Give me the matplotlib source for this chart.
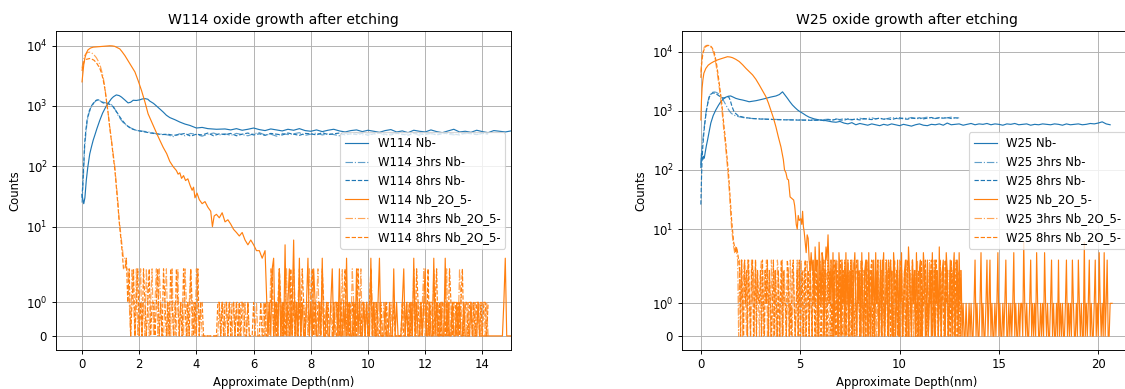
import numpy as np
import matplotlib
matplotlib.use('Agg')
import matplotlib.pyplot as plt

# ---------------- W114 (left panel) ----------------
# Nb- as-etched
w114_nb_x = [0, 0.03, 0.06, 0.1, 0.15, 0.2, 0.27, 0.33, 0.39, 0.45, 0.52, 0.62, 0.72, 0.85, 0.95,
             1.03, 1.1, 1.2, 1.3, 1.38, 1.5, 1.61, 1.7, 1.79, 1.9, 2.02, 2.1, 2.2, 2.3, 2.37, 2.5,
             2.6, 2.72, 2.84, 2.95, 3.07, 3.25, 3.42, 3.6, 3.77, 4.0, 4.2, 4.4, 4.7, 5.0]
w114_nb_y = [34, 28, 24, 30, 59, 95, 160, 210, 270, 330, 420, 575, 760, 1000, 1170,
             1320, 1420, 1520, 1480, 1400, 1250, 1120, 1150, 1240, 1230, 1260, 1300, 1320, 1290, 1200, 1100,
             1000, 890, 790, 700, 640, 590, 540, 500, 475, 430, 440, 420, 410, 415]
w114_nb_flat = [400, 420, 395, 410, 430, 405, 390, 415, 400, 385,
                410, 395, 420, 390, 380, 400, 375, 395, 410, 385,
                370, 390, 400, 375, 395, 380, 365, 390, 405, 370,
                385, 360, 395, 380, 370, 400, 375, 360, 385, 410,
                370, 380, 365, 395, 375, 360, 390, 380, 370, 385]  # 5.2 .. 15.0

w114_3h_nb_x = [0, 0.03, 0.06, 0.09, 0.13, 0.18, 0.25, 0.33, 0.42, 0.5, 0.56, 0.65, 0.74, 0.85, 0.97,
                1.05, 1.14, 1.2, 1.26, 1.35, 1.44, 1.55, 1.67, 1.8, 1.9, 2.05, 2.25, 2.45, 2.6, 2.8]
w114_3h_nb_y = [25, 45, 90, 200, 330, 560, 780, 960, 1130, 1230, 1270, 1200, 1150, 1120, 1090,
                1030, 900, 800, 700, 600, 530, 480, 440, 410, 395, 385, 375, 360, 345, 340]
w114_3h_nb_flat = [330, 310, 345, 320, 350, 335, 315, 340, 355, 330,
                   345, 325, 350, 335, 320, 345, 360, 330, 340, 315,
                   350, 335, 345, 360, 325, 340, 355, 330, 345, 335,
                   320, 350, 340, 360, 330, 345, 335, 355, 325, 345,
                   360, 335, 340, 350, 325, 355, 345, 335, 360, 340,
                   330, 350, 345, 360, 335, 350, 340]  # 3.0 .. 14.2

w114_8h_nb_x = [0, 0.03, 0.06, 0.09, 0.13, 0.18, 0.25, 0.33, 0.42, 0.5, 0.58, 0.66, 0.74, 0.85, 0.97,
                1.08, 1.16, 1.24, 1.32, 1.4, 1.5, 1.6, 1.72, 1.85, 2.0, 2.2, 2.4, 2.6, 2.8]
w114_8h_nb_y = [30, 55, 110, 230, 380, 600, 820, 1000, 1150, 1240, 1260, 1180, 1120, 1100, 1060,
                980, 860, 760, 660, 580, 510, 460, 420, 400, 385, 370, 355, 345, 335]
w114_8h_nb_flat = [340, 325, 335, 350, 315, 340, 330, 355, 320, 345,
                   335, 350, 320, 340, 355, 330, 345, 325, 350, 340,
                   330, 355, 340, 325, 350, 345, 330, 360, 335, 345,
                   355, 330, 345, 335, 350, 325, 345, 360, 340, 330,
                   350, 340, 325, 355, 345, 335, 350, 330, 345, 355,
                   340, 330, 355, 345, 335, 350, 345]  # 3.0 .. 14.2

# Nb2O5- as-etched
w114_ox_x = [0, 0.03, 0.06, 0.1, 0.15, 0.21, 0.3, 0.39, 0.5, 0.62, 0.8, 0.97, 1.06, 1.14, 1.22, 1.32,
             1.4, 1.5, 1.58, 1.67, 1.76, 1.85, 1.96, 2.08, 2.2, 2.31, 2.4, 2.49, 2.6, 2.72, 2.84, 2.96,
             3.07, 3.19, 3.3, 3.36, 3.42, 3.48, 3.55, 3.62, 3.7, 3.78, 3.85, 3.9, 3.95, 4.02, 4.1,
             4.2, 4.3, 4.4, 4.5, 4.56, 4.62, 4.7, 4.8, 4.9, 5.0, 5.1, 5.2, 5.3, 5.4, 5.5, 5.6, 5.7,
             5.8, 5.9, 6.0, 6.1, 6.2, 6.3, 6.4]
w114_ox_y = [2500, 3500, 4800, 6200, 7500, 8500, 9100, 9400, 9500, 9600, 9800, 9900, 9850, 9700, 9300, 8800,
             7900, 6800, 5900, 5000, 4300, 3650, 2640, 1800, 1160, 740, 590, 475, 360, 270, 205, 162,
             120, 98, 85, 74, 78, 63, 70, 58, 62, 48, 40, 45, 30, 36, 28,
             24, 26, 21, 18, 10, 15, 16, 14, 17, 12, 13, 11, 9, 8, 7, 8, 6,
             5, 6, 5, 4, 4, 3, 4]
w114_ox_tail = ("01023010201050120160"   # 6.5 .. 7.45, step 0.05
                "10301001301021001030"
                "01001201102001030100"
                "10201001010030100130"
                "00100100201000120100"
                "10301001012001003010"
                "01003010010010100100"
                "00100001000000000000"
                "00000130000")           # 14.5 .. 15.0

w114_3h_ox_x = [0, 0.03, 0.06, 0.09, 0.15, 0.21, 0.27, 0.33, 0.42, 0.5, 0.56, 0.62, 0.68, 0.74, 0.8,
                0.85, 0.91, 0.97, 1.03, 1.09, 1.15, 1.2, 1.25, 1.3, 1.35, 1.4, 1.45]
w114_3h_ox_y = [4200, 5200, 6000, 6800, 7400, 7700, 7750, 7600, 7000, 6300, 5600, 4900, 3900, 3000, 2000,
                1300, 800, 450, 280, 160, 95, 50, 28, 13, 8, 5, 3]
w114_3h_ox_tail = ("32210210201201021012"   # 1.5 .. 2.45
                   "01202100120102010201"
                   "10210120102101000000"
                   "00000010110101101011"
                   "01101010000010000101"
                   "10210110201012011021"
                   "01201101021010120110"
                   "01001000101020110102"
                   "10110201011021010010"
                   "01000010000000010110"
                   "10210110120101102101"
                   "01101201011010210110"
                   "101101011011010")       # 13.5 .. 14.2

w114_8h_ox_x = [0, 0.03, 0.06, 0.09, 0.15, 0.21, 0.27, 0.33, 0.42, 0.5, 0.56, 0.62, 0.68, 0.74, 0.8,
                0.85, 0.91, 0.97, 1.03, 1.09, 1.15, 1.2, 1.25, 1.3, 1.35, 1.4, 1.45]
w114_8h_ox_y = [3800, 4600, 5200, 5600, 5900, 6000, 6100, 6000, 5700, 5200, 4700, 4200, 3500, 2700, 1900,
                1250, 780, 430, 260, 150, 85, 45, 24, 12, 7, 4, 2]
w114_8h_ox_tail = ("23120120120102101201"
                   "10120102101021002101"
                   "02101021010201100000"
                   "00000110101101011010"
                   "10110010001000010010"
                   "01120101210101102010"
                   "10102101101201011021"
                   "00100010010101201011"
                   "01021011010120101001"
                   "00010000100000100101"
                   "01102101011020110120"
                   "10110102101101012011"
                   "011010110101101")

# ---------------- W25 (right panel) ----------------
w25_nb_x = [0, 0.03, 0.06, 0.1, 0.14, 0.17, 0.22, 0.28, 0.34, 0.42, 0.5, 0.62, 0.75, 0.88, 1.0,
            1.13, 1.26, 1.38, 1.5, 1.63, 1.76, 1.93, 2.1, 2.27, 2.43, 2.6, 2.77, 3.0, 3.27, 3.5,
            3.78, 3.95, 4.11, 4.23, 4.36, 4.48, 4.61, 4.74, 4.87, 5.0, 5.12, 5.3, 5.45, 5.7, 5.96]
w25_nb_y = [110, 190, 160, 150, 170, 158, 200, 260, 325, 450, 620, 830, 1030, 1230, 1420,
            1580, 1700, 1760, 1780, 1700, 1620, 1560, 1520, 1470, 1420, 1450, 1480, 1540, 1620, 1700,
            1780, 1880, 2090, 1850, 1620, 1420, 1250, 1130, 1030, 960, 910, 830, 780, 730, 700]
w25_nb_flat = [690, 670, 650, 640, 660, 620, 600, 630, 580, 610, 590, 570, 600, 580, 560, 590, 570, 600, 580,
               560, 590, 570, 550, 580, 600, 570, 560, 590, 580, 600, 570, 620, 580, 590, 600, 570, 590, 610, 580,
               600, 590, 610, 580, 600, 590, 570, 600, 590, 610, 580, 590, 600, 570, 590, 580, 600, 590, 580, 600,
               590, 570, 600, 580, 590, 600, 580, 590, 610, 600, 620, 650, 600, 580]  # 6.2 .. 20.6

w25_3h_nb_x = [0, 0.03, 0.06, 0.1, 0.15, 0.2, 0.25, 0.3, 0.36, 0.42, 0.5, 0.59, 0.67, 0.75, 0.83,
               0.92, 1.0, 1.09, 1.18, 1.26, 1.35, 1.43, 1.51, 1.6, 1.75, 1.93, 2.2, 2.6, 3.0, 3.44,
               4.0, 4.5, 5.1, 5.6]
w25_3h_nb_y = [120, 180, 250, 330, 470, 650, 900, 1150, 1450, 1750, 1950, 2050, 2080, 2060, 2000,
               1900, 1780, 1600, 1400, 1250, 1100, 1000, 920, 870, 820, 790, 760, 740, 730, 720,
               710, 705, 700, 700]
w25_3h_nb_flat = [700, 690, 710, 720, 700, 730, 710, 740, 720, 700, 730, 750, 720, 740, 760, 730, 750,
                  720, 740, 770, 750, 730, 760, 740, 770, 750, 730, 760, 780, 750, 740, 770, 750, 760,
                  780, 750, 760]  # 5.8 .. 13.0

w25_8h_nb_x = [0, 0.03, 0.06, 0.1, 0.15, 0.2, 0.25, 0.3, 0.36, 0.42, 0.5, 0.6, 0.7, 0.8, 0.9,
               1.0, 1.1, 1.2, 1.3, 1.4, 1.48, 1.56, 1.65, 1.75, 1.85, 2.0, 2.2, 2.6, 3.0, 3.5,
               4.0, 4.5, 5.0, 5.6]
w25_8h_nb_y = [26, 70, 150, 260, 420, 620, 850, 1100, 1400, 1700, 1900, 2000, 1980, 1900, 1800,
               1700, 1650, 1660, 1700, 1720, 1500, 1200, 1000, 900, 840, 800, 770, 740, 725, 715,
               705, 700, 695, 690]
w25_8h_nb_flat = [690, 700, 680, 710, 690, 720, 700, 690, 730, 710, 720, 700, 740, 720, 710, 730, 750,
                  720, 730, 710, 740, 760, 730, 720, 750, 740, 760, 730, 750, 770, 740, 760, 750, 770,
                  740, 760, 750]  # 5.8 .. 13.0

w25_ox_x = [0, 0.03, 0.06, 0.1, 0.15, 0.25, 0.37, 0.5, 0.62, 0.75, 0.92, 1.09, 1.22, 1.34, 1.47,
            1.59, 1.76, 1.93, 2.1, 2.27, 2.43, 2.6, 2.77, 2.94, 3.1, 3.27, 3.4, 3.52, 3.65, 3.78,
            3.9, 4.03, 4.15, 4.21, 4.28, 4.35, 4.41, 4.49, 4.58, 4.67, 4.72, 4.76, 4.8, 4.85, 4.9,
            4.95, 5.03, 5.08, 5.12, 5.16, 5.2, 5.25, 5.3, 5.35, 5.4, 5.45, 5.5]
w25_ox_y = [700, 1500, 2400, 3300, 4300, 5200, 5900, 6350, 6700, 7050, 7400, 7720, 8000, 8200, 8100,
            7900, 7400, 6800, 6000, 5200, 4600, 4050, 3400, 2730, 2200, 1740, 1350, 1030, 760, 530,
            360, 245, 150, 100, 90, 70, 68, 35, 33, 31, 25, 18, 12, 10, 17,
            14, 15, 12, 20, 11, 9, 6, 4, 8, 7, 3, 2]
w25_ox_tail = ("42315230621430253821"   # 5.55 .. 6.5
               "31402310420312041302"
               "13024103120410231041"
               "02130412013024013102"
               "31042013021401230152"
               "10312041023014201301"
               "20410312051023104201"
               "31024013041201001001"
               "01001301001401001301"
               "30100101401001013001"
               "01014010010110610100"
               "13010104100101041010"
               "01301001030101001301"
               "01031001031010060101"
               "30100130104101040130"
               "0111")                  # 20.55 .. 20.7

w25_3h_ox_x = [0, 0.03, 0.07, 0.12, 0.17, 0.22, 0.28, 0.34, 0.4, 0.45, 0.5, 0.55, 0.61, 0.67, 0.71,
               0.75, 0.8, 0.84, 0.88, 0.92, 0.96, 1.0, 1.05, 1.09, 1.13, 1.17, 1.22, 1.26, 1.3, 1.35,
               1.4, 1.45, 1.5, 1.55, 1.6, 1.65, 1.7, 1.75, 1.8, 1.85]
w25_3h_ox_y = [4300, 6500, 8800, 10500, 11800, 12400, 12700, 12800, 12700, 12600, 12000, 11400, 10200, 8800, 7500,
               6350, 5000, 4000, 3200, 2570, 2000, 1530, 1100, 790, 560, 415, 300, 217, 150, 100,
               60, 35, 18, 10, 7, 5, 4, 5, 4, 3]
w25_3h_ox_tail = ("03130231032103120312"   # 1.9 .. 2.85
                  "10231021301203102103"
                  "21013021012031021013"
                  "02130120131021031201"
                  "10312013021013201023"
                  "01203102103120103210"
                  "21030121031020130120"
                  "13012010312013021012"
                  "01302101230102130120"
                  "31021031201032101301"
                  "20130121031021301201"
                  "31020")                 # 12.9 .. 13.1

w25_8h_ox_x = [0, 0.03, 0.07, 0.12, 0.17, 0.22, 0.28, 0.34, 0.4, 0.45, 0.5, 0.55, 0.61, 0.67, 0.71,
               0.75, 0.8, 0.84, 0.88, 0.92, 0.96, 1.0, 1.05, 1.09, 1.13, 1.17, 1.22, 1.26, 1.3, 1.35,
               1.4, 1.45, 1.5, 1.55, 1.6, 1.65, 1.7, 1.75, 1.8, 1.85, 1.9]
w25_8h_ox_y = [3600, 5600, 7800, 9800, 11000, 11900, 12400, 12600, 12700, 12600, 12300, 11800, 10900, 9700, 8500,
               7300, 5900, 4800, 3800, 3000, 2400, 1850, 1350, 980, 700, 520, 370, 270, 190, 125,
               80, 45, 25, 14, 9, 6, 5, 4, 5, 4, 3]
w25_8h_ox_tail = ("20310312031023013021"   # 1.95 .. 2.9
                  "12031021302101302102"
                  "01302110320102310120"
                  "30120130120310210310"
                  "12013021031201031021"
                  "03102130120130210231"
                  "20131020310123010213"
                  "01203101203102103120"
                  "10320120130210312010"
                  "21030123010213012031"
                  "01302103120103120130"
                  "1201")                  # 12.95 .. 13.1


def series(shape_x, shape_y, start, step, rest):
    # join the hand-read curve with an evenly sampled stretch (depth step of the profile)
    if isinstance(rest, str):
        rest = [int(c) for c in rest]
    rx = start + step * np.arange(len(rest))
    return np.concatenate([shape_x, rx]), np.concatenate([shape_y, rest])


DPI = 84
fig = plt.figure(figsize=(1125 / DPI, 389 / DPI), dpi=DPI)
ax1 = fig.add_axes([56 / 1125, 39 / 389, 455 / 1125, 319 / 389])
ax2 = fig.add_axes([682 / 1125, 39 / 389, 450 / 1125, 319 / 389])

left = [
    (series(w114_nb_x, w114_nb_y, 5.2, 0.2, w114_nb_flat), 'C0', '-', 1.0, 'W114 Nb-'),
    (series(w114_3h_nb_x, w114_3h_nb_y, 3.0, 0.2, w114_3h_nb_flat), 'C0', '-.', 0.7, 'W114 3hrs Nb-'),
    (series(w114_8h_nb_x, w114_8h_nb_y, 3.0, 0.2, w114_8h_nb_flat), 'C0', '--', 1.0, 'W114 8hrs Nb-'),
    (series(w114_ox_x, w114_ox_y, 6.5, 0.05, w114_ox_tail), 'C1', '-', 1.0, 'W114 Nb_2O_5-'),
    (series(w114_3h_ox_x, w114_3h_ox_y, 1.5, 0.05, w114_3h_ox_tail), 'C1', '-.', 0.7, 'W114 3hrs Nb_2O_5-'),
    (series(w114_8h_ox_x, w114_8h_ox_y, 1.5, 0.05, w114_8h_ox_tail), 'C1', '--', 1.0, 'W114 8hrs Nb_2O_5-'),
]
right = [
    (series(w25_nb_x, w25_nb_y, 6.2, 0.2, w25_nb_flat), 'C0', '-', 1.0, 'W25 Nb-'),
    (series(w25_3h_nb_x, w25_3h_nb_y, 5.8, 0.2, w25_3h_nb_flat), 'C0', '-.', 0.7, 'W25 3hrs Nb-'),
    (series(w25_8h_nb_x, w25_8h_nb_y, 5.8, 0.2, w25_8h_nb_flat), 'C0', '--', 1.0, 'W25 8hrs Nb-'),
    (series(w25_ox_x, w25_ox_y, 5.55, 0.05, w25_ox_tail), 'C1', '-', 1.0, 'W25 Nb_2O_5-'),
    (series(w25_3h_ox_x, w25_3h_ox_y, 1.9, 0.05, w25_3h_ox_tail), 'C1', '-.', 0.7, 'W25 3hrs Nb_2O_5-'),
    (series(w25_8h_ox_x, w25_8h_ox_y, 1.95, 0.05, w25_8h_ox_tail), 'C1', '--', 1.0, 'W25 8hrs Nb_2O_5-'),
]

for ax, lines, title in [(ax1, left, 'W114 oxide growth after etching'),
                         (ax2, right, 'W25 oxide growth after etching')]:
    for (x, y), c, ls, a, lab in lines:
        ax.plot(x, y, color=c, linestyle=ls, alpha=a, linewidth=1.0, label=lab)
    ax.set_yscale('symlog')
    ax.grid(True)
    ax.set_title(title)
    ax.set_xlabel('Approximate Depth(nm)')
    ax.set_ylabel('Counts')
    ax.legend(loc='center right')

ax1.set_xlim(-0.91, 15.0)
ax1.set_ylim(-0.42, 17400)
ax1.set_xticks(range(0, 15, 2))
ax2.set_xlim(-0.95, 21.7)
ax2.set_ylim(-0.42, 22300)

fig.savefig('out.png', dpi=DPI)
